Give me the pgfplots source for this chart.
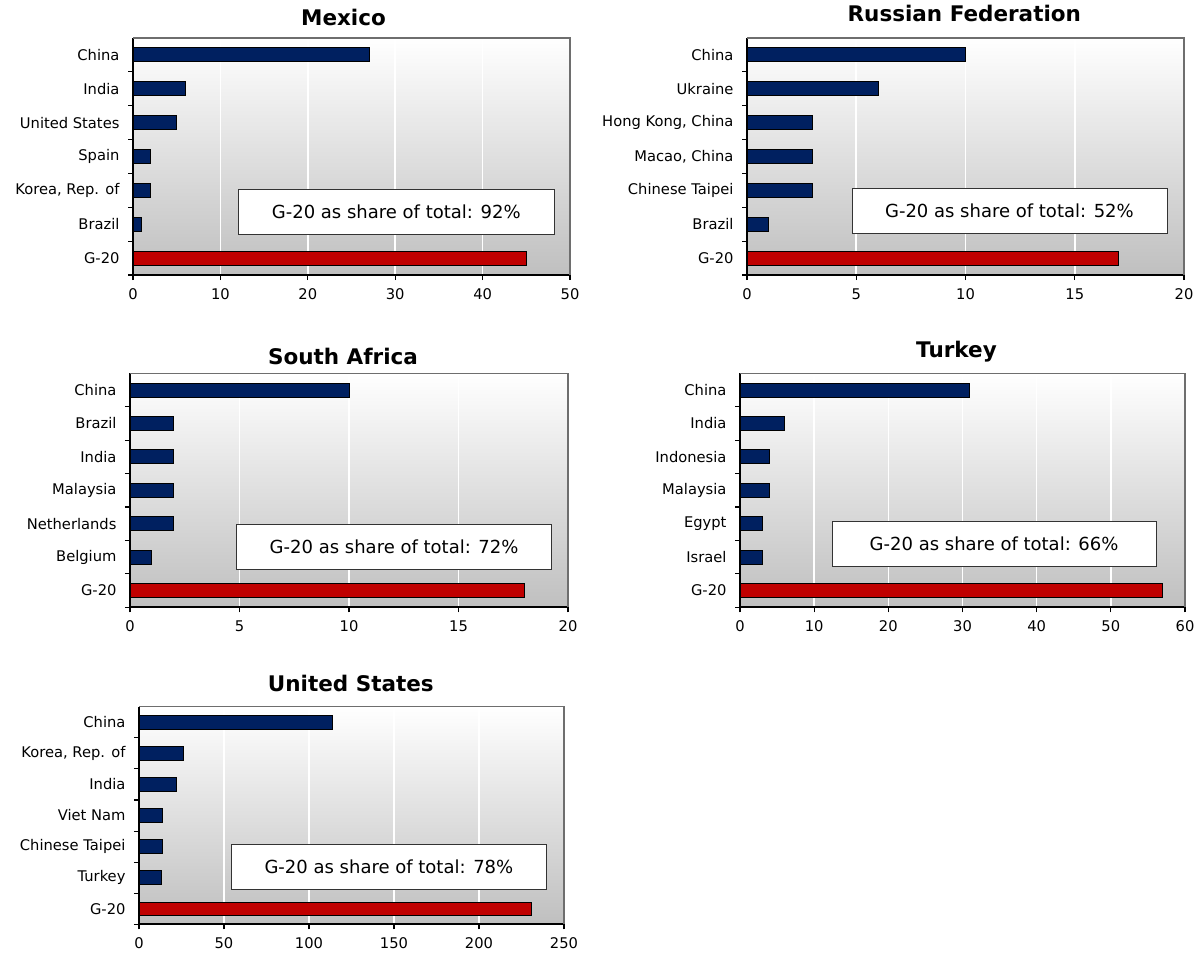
\documentclass[border=0pt]{standalone}
\usepackage{fontspec}
\setmainfont{DejaVu Sans}
\usepackage{pgfplots}
\pgfplotsset{compat=1.18}

\definecolor{navy}{RGB}{0,32,96}
\definecolor{barred}{RGB}{192,0,0}
\definecolor{frame}{RGB}{110,110,110}

\pgfplotsset{
  panel/.style={
    scale only axis,
    anchor=north west,
    xbar,
    bar width=14pt,
    xmin=0,
    ymin=-0.5, ymax=6.5,
    ytick={0,...,6},
    minor ytick={-0.5,0.5,...,5.5},
    major tick length=0pt,
    minor tick length=5pt,
    tick align=outside,
    tick style={black, line width=1.1pt},
    axis lines*=left,
    axis line style={black, line width=1.8pt},
    xmajorgrids,
    major grid style={white, line width=1.6pt},
    axis background/.style={top color=white, bottom color=gray!50},
    tick label style={font=\fontsize{14.7}{17}\selectfont},
    yticklabel style={xshift=-10pt},
    xticklabel style={yshift=-10pt},
    /pgf/number format/assume math mode=true,
    clip=false,
  },
  blue bars/.style={fill=navy, draw=black, line width=0.9pt, bar shift=0pt},
  red bars/.style={fill=barred, draw=black, line width=0.9pt, bar shift=0pt},
}
\tikzset{
  sharebox/.style={draw=gray!40!black, fill=white, line width=0.8pt,
    minimum height=45pt, inner sep=0pt,
    font={\fontsize{18}{21}\selectfont}},
}
\newcommand{\paneltitle}[3]{\node[anchor=base, font={\bfseries\fontsize{21.5}{25}\selectfont}] at (#1pt,-#2pt) {#3};}
\newcommand{\grayframe}{\draw[frame, line width=1.4pt] (rel axis cs:0,1) -- (rel axis cs:1,1) -- (rel axis cs:1,0);}

\begin{document}
\begin{tikzpicture}
\useasboundingbox (0,0) rectangle (1201pt,-954pt);

% Mexico
\begin{axis}[panel, at={(133pt,-38pt)}, width=437pt, height=237pt,
  xmax=50, xtick={0,10,...,50}, minor xtick={0,10,...,50},
  yticklabels={G-20,Brazil,{Korea, Rep. of},Spain,United States,India,China}]
\addplot[blue bars] coordinates {(27,6) (6,5) (5,4) (2,3) (2,2) (1,1)};
\addplot[red bars] coordinates {(45,0)};
\grayframe
\node[sharebox, minimum width=316pt] at (rel axis cs:0.6025,0.267) {G-20 as share of total: 92\%};
\end{axis}
\paneltitle{343.5}{25.7}{Mexico}

% Russian Federation
\begin{axis}[panel, at={(747pt,-38pt)}, width=437pt, height=237pt,
  xmax=20, xtick={0,5,...,20}, minor xtick={0,5,...,20},
  yticklabels={G-20,Brazil,Chinese Taipei,{Macao, China},{Hong Kong, China},Ukraine,China}]
\addplot[blue bars] coordinates {(10,6) (6,5) (3,4) (3,3) (3,2) (1,1)};
\addplot[red bars] coordinates {(17,0)};
\grayframe
\node[sharebox, minimum width=315pt] at (rel axis cs:0.6005,0.271) {G-20 as share of total: 52\%};
\end{axis}
\paneltitle{964.3}{21.7}{Russian Federation}

% South Africa
\begin{axis}[panel, at={(130pt,-373.3pt)}, width=438pt, height=234pt,
  xmax=20, xtick={0,5,...,20}, minor xtick={0,5,...,20},
  yticklabels={G-20,Belgium,Netherlands,Malaysia,India,Brazil,China}]
\addplot[blue bars] coordinates {(10,6) (2,5) (2,4) (2,3) (2,2) (1,1)};
\addplot[red bars] coordinates {(18,0)};
\grayframe
\node[sharebox, minimum width=315.4pt] at (rel axis cs:0.603,0.259) {G-20 as share of total: 72\%};
\end{axis}
\paneltitle{343}{364}{South Africa}

% Turkey
\begin{axis}[panel, at={(740pt,-373.3pt)}, width=445pt, height=234pt,
  xmax=60, xtick={0,10,...,60}, minor xtick={0,10,...,60},
  yticklabels={G-20,Israel,Egypt,Malaysia,Indonesia,India,China}]
\addplot[blue bars] coordinates {(31,6) (6,5) (4,4) (4,3) (3,2) (3,1)};
\addplot[red bars] coordinates {(57,0)};
\grayframe
\node[sharebox, minimum width=324.3pt] at (rel axis cs:0.571,0.270) {G-20 as share of total: 66\%};
\end{axis}
\paneltitle{956.5}{357.3}{Turkey}

% United States
\begin{axis}[panel, at={(139pt,-706.7pt)}, width=425pt, height=217.6pt,
  bar width=13.5pt,
  xmax=250, xtick={0,50,...,250}, minor xtick={0,50,...,250},
  yticklabels={G-20,Turkey,Chinese Taipei,Viet Nam,India,{Korea, Rep. of},China}]
\addplot[blue bars] coordinates {(114,6) (26,5) (22,4) (14,3) (14,2) (13,1)};
\addplot[red bars] coordinates {(231,0)};
\grayframe
\node[sharebox, minimum width=315.3pt] at (rel axis cs:0.588,0.2645) {G-20 as share of total: 78\%};
\end{axis}
\paneltitle{350.8}{691.7}{United States}

\end{tikzpicture}
\end{document}
